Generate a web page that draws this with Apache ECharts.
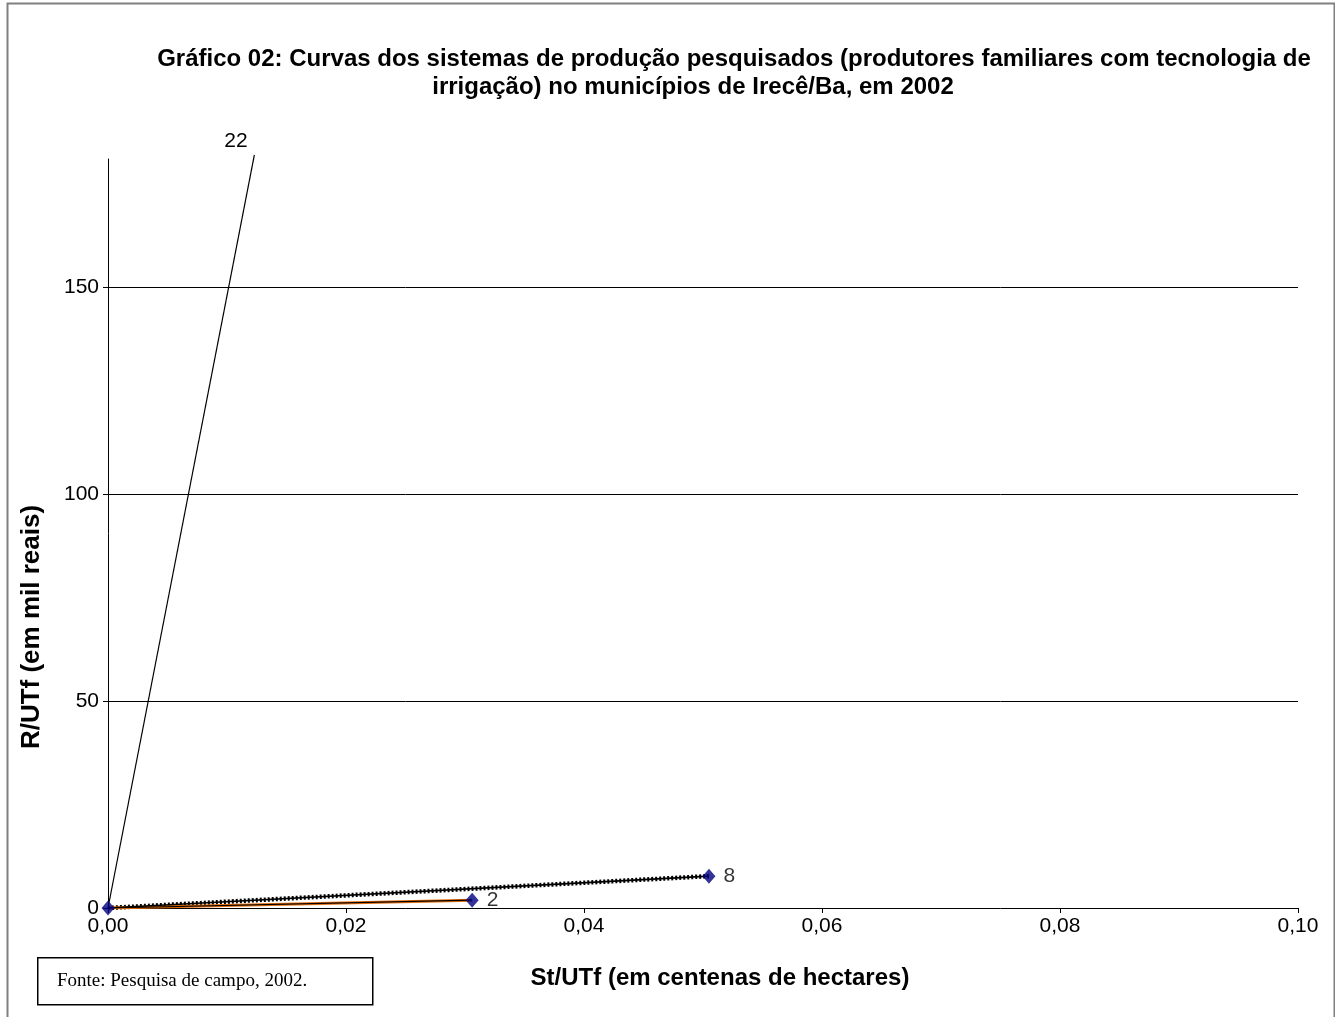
<!DOCTYPE html>
<html>
<head>
<meta charset="utf-8">
<title>Gráfico 02</title>
<script src="https://cdn.jsdelivr.net/npm/echarts@6/dist/echarts.min.js"></script>
<style>
  html, body { margin: 0; padding: 0; background: #fff; }
  #chart { width: 1335px; height: 1017px; }
</style>
</head>
<body>
<div id="chart"></div>
<script>
// Sistemas de produção: St/UTf (centenas de ha) x R/UTf (mil reais)
const origin = [0, 0];
const sistema22 = [0.0123, 182];
const sistema8 = [0.0505, 7.7];
const sistema2 = [0.0306, 1.9];
const pointLabels = ['', '2', '8'];
const xTicks = { min: 0, max: 0.1, interval: 0.02 };
const yTicks = { min: 0, max: 181, interval: 50 };

const FONT = 'Arial, "Liberation Sans", sans-serif';

const chart = echarts.init(document.getElementById('chart'));

const fmtComma = v => v.toFixed(2).replace('.', ',');

chart.setOption({
  animation: false,
  backgroundColor: '#fff',
  title: [
    {
      text: 'Gráfico 02: Curvas dos sistemas de produção pesquisados (produtores familiares com tecnologia de',
      left: 729, top: 42, textAlign: 'center',
      textStyle: { fontFamily: FONT, fontSize: 24, fontWeight: 'bold', color: '#000' }
    },
    {
      text: 'irrigação) no municípios de Irecê/Ba, em 2002',
      left: 688, top: 70, textAlign: 'center',
      textStyle: { fontFamily: FONT, fontSize: 24, fontWeight: 'bold', color: '#000' }
    }
  ],
  grid: { left: 108, right: 37, top: 159, bottom: 109, containLabel: false },
  xAxis: {
    type: 'value',
    min: xTicks.min, max: xTicks.max, interval: xTicks.interval,
    axisLine: { show: true, onZero: false, lineStyle: { color: '#000', width: 1 } },
    axisTick: { show: true, inside: false, length: 5, lineStyle: { color: '#000' } },
    axisLabel: { formatter: fmtComma, fontFamily: FONT, fontSize: 21, color: '#000', margin: 8 },
    splitLine: { show: false }
  },
  yAxis: {
    type: 'value',
    min: yTicks.min, max: yTicks.max, interval: yTicks.interval,
    axisLine: { show: true, lineStyle: { color: '#000', width: 1 } },
    axisTick: { show: true, inside: false, length: 5, lineStyle: { color: '#000' } },
    axisLabel: { fontFamily: FONT, fontSize: 21, color: '#000', margin: 9, showMaxLabel: false },
    splitLine: { show: true, showMinLine: false, showMaxLine: false, lineStyle: { color: '#000', width: 1 } }
  },
  series: [
    {
      name: '22', type: 'line', data: [origin, sistema22],
      symbol: 'none', clip: false, z: 3,
      lineStyle: { color: '#000', width: 1.2 },
      endLabel: {
        show: true, formatter: '22', fontFamily: FONT, fontSize: 21, color: '#000',
        distance: 0, offset: [-30, -14]
      }
    },
    {
      name: '8 (pontilhado)', type: 'line', data: [origin, sistema8],
      symbol: 'none', z: 2,
      lineStyle: { color: '#000', width: 4.5, type: [2, 2] }
    },
    {
      name: '8', type: 'line', data: [origin, sistema8],
      symbol: 'none', z: 3,
      lineStyle: { color: '#000', width: 1.6 }
    },
    {
      name: '2 (laranja)', type: 'line', data: [origin, sistema2],
      symbol: 'none', z: 2,
      lineStyle: { color: '#e46c0a', width: 3 }
    },
    {
      name: '2', type: 'line', data: [origin, sistema2],
      symbol: 'none', z: 3,
      lineStyle: { color: '#000', width: 1.2 }
    },
    {
      name: 'pontos', type: 'scatter', z: 5,
      data: [origin, sistema2, sistema8].map((p, i) => ({ value: p, name: pointLabels[i] })),
      symbol: 'diamond', symbolSize: [13, 15],
      itemStyle: { color: '#000080' },
      label: {
        show: true, position: 'right', distance: 8,
        formatter: p => p.name, fontFamily: FONT, fontSize: 21, color: '#000'
      }
    }
  ],
  graphic: [
    {
      type: 'rect', left: 5, top: 1, silent: true, z: 0,
      shape: { width: 1327, height: 1030 },
      style: { fill: 'none', stroke: '#808080', lineWidth: 2 }
    },
    {
      type: 'text', silent: true,
      x: 32, y: 627, rotation: Math.PI / 2,
      style: {
        text: 'R/UTf (em mil reais)', fontFamily: FONT, fontSize: 26, fontWeight: 'bold',
        fill: '#000', align: 'center', verticalAlign: 'middle'
      }
    },
    {
      type: 'text', silent: true,
      x: 720, y: 978,
      style: {
        text: 'St/UTf (em centenas de hectares)', fontFamily: FONT, fontSize: 24, fontWeight: 'bold',
        fill: '#000', align: 'center', verticalAlign: 'middle'
      }
    },
    {
      type: 'rect', silent: true, left: 37, top: 957,
      shape: { width: 335, height: 47 },
      style: { fill: '#fff', stroke: '#000', lineWidth: 1.5 }
    },
    {
      type: 'text', silent: true,
      x: 57, y: 981,
      style: {
        text: 'Fonte: Pesquisa de campo, 2002.', fontFamily: '"Liberation Serif", "Times New Roman", serif',
        fontSize: 19, fill: '#000', align: 'left', verticalAlign: 'middle'
      }
    }
  ]
});
</script>
</body>
</html>
